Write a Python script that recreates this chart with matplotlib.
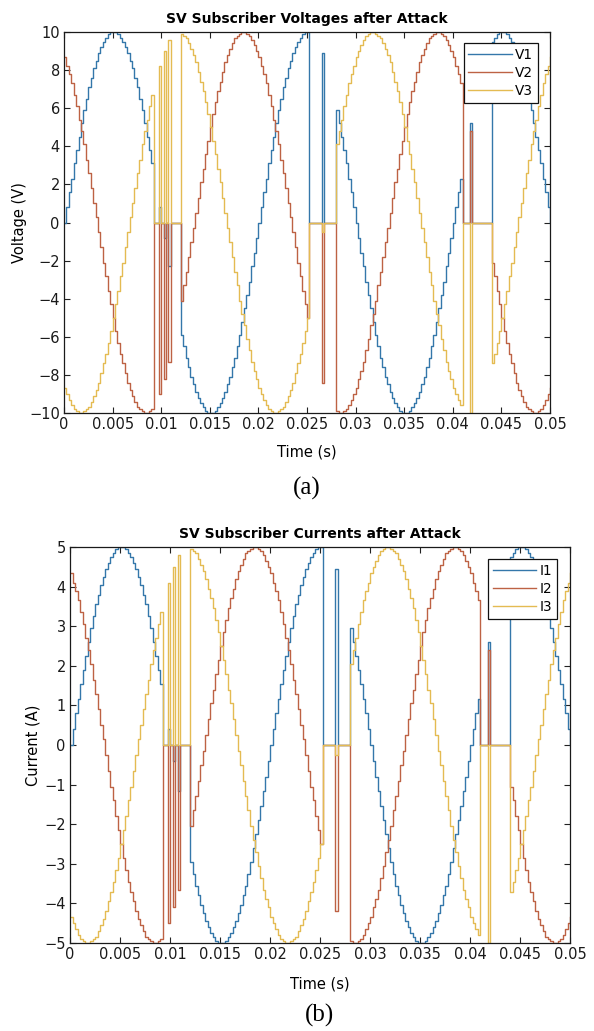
import numpy as np
import matplotlib
matplotlib.use("Agg")
import matplotlib.pyplot as plt

# ---------------------------------------------------------------------------
# Sampled-value stream: 50 Hz, 80 samples per cycle (4 kHz), 0 ... 0.05 s
# ---------------------------------------------------------------------------
FS = 4000
N_SAMPLES = 201

# One cycle of each phase voltage as published by the merging unit (V)
V1_CYCLE = [0.0, 0.8, 1.6, 2.3, 3.1, 3.8, 4.5, 5.2, 5.9, 6.5, 7.1, 7.6, 8.1, 8.5, 8.9, 9.2,
            9.5, 9.7, 9.9, 10.0, 10.0, 10.0, 9.9, 9.7, 9.5, 9.2, 8.9, 8.5, 8.1, 7.6, 7.1, 6.5,
            5.9, 5.2, 4.5, 3.8, 3.1, 2.3, 1.6, 0.8, 0.0, -0.8, -1.6, -2.3, -3.1, -3.8, -4.5, -5.2,
            -5.9, -6.5, -7.1, -7.6, -8.1, -8.5, -8.9, -9.2, -9.5, -9.7, -9.9, -10.0, -10.0, -10.0,
            -9.9, -9.7, -9.5, -9.2, -8.9, -8.5, -8.1, -7.6, -7.1, -6.5, -5.9, -5.2, -4.5, -3.8,
            -3.1, -2.3, -1.6, -0.8]
V2_CYCLE = [8.7, 8.2, 7.8, 7.3, 6.7, 6.1, 5.4, 4.8, 4.1, 3.3, 2.6, 1.8, 1.0, 0.3, -0.5, -1.3,
            -2.1, -2.8, -3.6, -4.3, -5.0, -5.7, -6.3, -6.9, -7.4, -7.9, -8.4, -8.8, -9.1, -9.4,
            -9.7, -9.8, -9.9, -10.0, -10.0, -9.9, -9.8, -9.6, -9.3, -9.0, -8.7, -8.2, -7.8, -7.3,
            -6.7, -6.1, -5.4, -4.8, -4.1, -3.3, -2.6, -1.8, -1.0, -0.3, 0.5, 1.3, 2.1, 2.8, 3.6,
            4.3, 5.0, 5.7, 6.3, 6.9, 7.4, 7.9, 8.4, 8.8, 9.1, 9.4, 9.7, 9.8, 9.9, 10.0, 10.0, 9.9,
            9.8, 9.6, 9.3, 9.0]
V3_CYCLE = [-8.7, -9.0, -9.3, -9.6, -9.8, -9.9, -10.0, -10.0, -9.9, -9.8, -9.7, -9.4, -9.1,
            -8.8, -8.4, -7.9, -7.4, -6.9, -6.3, -5.7, -5.0, -4.3, -3.6, -2.8, -2.1, -1.3, -0.5,
            0.3, 1.0, 1.8, 2.6, 3.3, 4.1, 4.8, 5.4, 6.1, 6.7, 7.3, 7.8, 8.2, 8.7, 9.0, 9.3, 9.6,
            9.8, 9.9, 10.0, 10.0, 9.9, 9.8, 9.7, 9.4, 9.1, 8.8, 8.4, 7.9, 7.4, 6.9, 6.3, 5.7, 5.0,
            4.3, 3.6, 2.8, 2.1, 1.3, 0.5, -0.3, -1.0, -1.8, -2.6, -3.3, -4.1, -4.8, -5.4, -6.1,
            -6.7, -7.3, -7.8, -8.2]

# Resistive load: phase currents follow the voltages (A = V / ohm)
LOAD_OHMS = 2.0

# Injected frames: sample ranges (first, last) forced to zero by the attacker,
# and the samples inside them that still carry the genuine values
ATTACK_WINDOWS = [(37, 47), (101, 111), (164, 175)]
PASSED_SAMPLES = [39, 41, 43, 106, 167]

X_TICKS = [0, 0.005, 0.01, 0.015, 0.02, 0.025, 0.03, 0.035, 0.04, 0.045, 0.05]
X_TICK_LABELS = ["0", "0.005", "0.01", "0.015", "0.02", "0.025", "0.03", "0.035",
                 "0.04", "0.045", "0.05"]
V_TICKS = [-10, -8, -6, -4, -2, 0, 2, 4, 6, 8, 10]
I_TICKS = [-5, -4, -3, -2, -1, 0, 1, 2, 3, 4, 5]

COLORS = ["#3477aa", "#bd6244", "#e4bb52"]
FONT = "DejaVu Sans"


def attacked_record(cycle, scale=1.0):
    healthy = np.tile(np.asarray(cycle, dtype=float), 3)[:N_SAMPLES] * scale
    out = healthy.copy()
    for first, last in ATTACK_WINDOWS:
        out[first:last + 1] = 0.0
    out[PASSED_SAMPLES] = healthy[PASSED_SAMPLES]
    return out


t = np.arange(N_SAMPLES) / FS
voltages = [attacked_record(c) for c in (V1_CYCLE, V2_CYCLE, V3_CYCLE)]
currents = [attacked_record(c, 1.0 / LOAD_OHMS) for c in (V1_CYCLE, V2_CYCLE, V3_CYCLE)]

W, H = 594, 1031
fig = plt.figure(figsize=(W / 100, H / 100), dpi=100)


def px_axes(left, right, top, bottom):
    return fig.add_axes([left / W, 1 - bottom / H, (right - left) / W, (bottom - top) / H])


def draw_panel(ax, series, yticks, ylim, title, ylabel, ylab_x, xlab_y, legend_labels,
               leg_anchor):
    for y, c, lab in zip(series, COLORS, legend_labels):
        ax.step(t, y, where="post", color=c, lw=1.0, label=lab)
    ax.set_xlim(0, 0.05)
    ax.set_ylim(*ylim)
    ax.set_xticks(X_TICKS)
    ax.set_xticklabels(X_TICK_LABELS)
    ax.set_yticks(yticks)
    ax.tick_params(direction="in", length=4, width=0.8, top=True, right=True,
                   labelsize=10.5, pad=3, colors="#222222", labelcolor="#1a1a1a")
    for lab in ax.get_xticklabels() + ax.get_yticklabels():
        lab.set_fontfamily(FONT)
    for s in ax.spines.values():
        s.set_linewidth(0.9)
        s.set_color("#1a1a1a")
    ax.set_title(title, fontsize=10, fontweight="bold", family=FONT, pad=6.5)
    ax.set_xlabel("Time (s)", fontsize=10.5, family=FONT)
    ax.set_ylabel(ylabel, fontsize=10.5, family=FONT)
    ax.xaxis.set_label_coords(0.5, xlab_y)
    ax.yaxis.set_label_coords(ylab_x, 0.5)
    leg = ax.legend(loc="upper right", bbox_to_anchor=leg_anchor, borderaxespad=0,
                    fancybox=False, framealpha=1, edgecolor="#111111",
                    prop={"family": FONT, "size": 9.8}, handlelength=3.2,
                    handletextpad=0.25, labelspacing=0.3, borderpad=0.35)
    leg.get_frame().set_linewidth(0.9)


ax1 = px_axes(64, 550, 32, 413)
draw_panel(ax1, voltages, V_TICKS, (-10, 10), "SV Subscriber Voltages after Attack",
           "Voltage (V)", -0.076, -0.082, ["V1", "V2", "V3"], (1 - 12 / 486, 1 - 11 / 381))

ax2 = px_axes(70, 570, 547, 943)
draw_panel(ax2, currents, I_TICKS, (-5, 5), "SV Subscriber Currents after Attack",
           "Current (A)", -0.058, -0.084, ["I1", "I2", "I3"], (1 - 13 / 500, 1 - 12 / 396))

fig.text(307 / W, 1 - 488 / H, "(a)", family="Liberation Serif", fontsize=18,
         ha="center", va="center")
fig.text(320 / W, 1 - 1015 / H, "(b)", family="Liberation Serif", fontsize=18,
         ha="center", va="center")

fig.savefig("out.png", dpi=100)
